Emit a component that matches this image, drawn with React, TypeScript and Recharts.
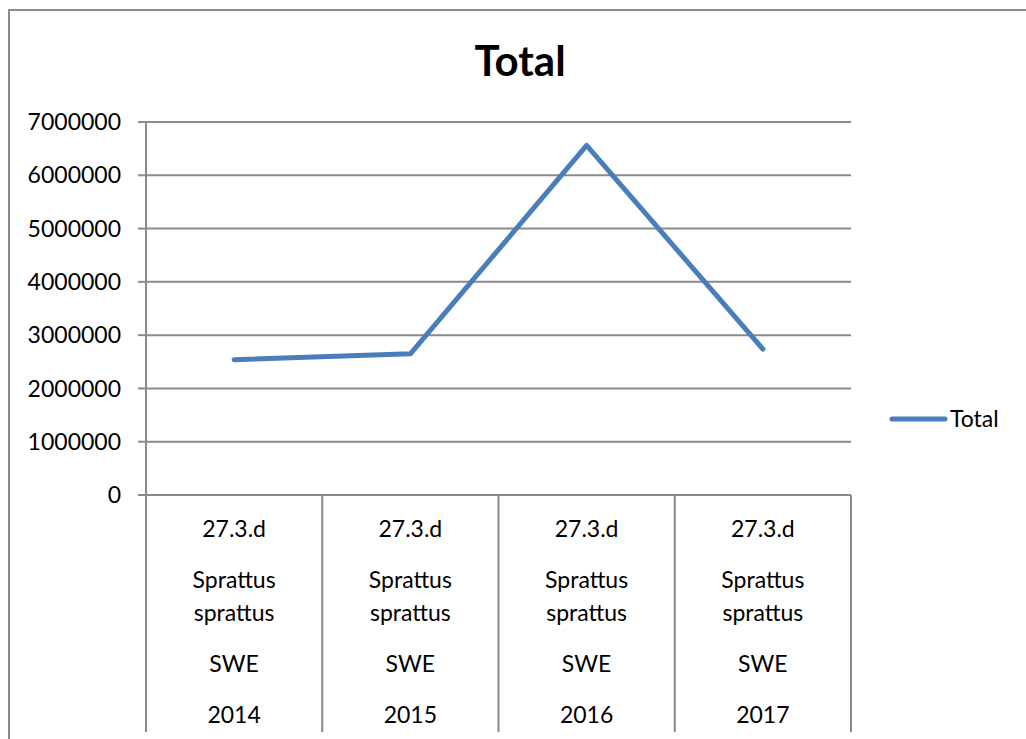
import React from 'react';
import { LineChart, Line, XAxis, YAxis, CartesianGrid } from 'recharts';

// chart values
const areas = ['27.3.d', '27.3.d', '27.3.d', '27.3.d'];
const speciesGenus = ['Sprattus', 'Sprattus', 'Sprattus', 'Sprattus'];
const speciesName = ['sprattus', 'sprattus', 'sprattus', 'sprattus'];
const countries = ['SWE', 'SWE', 'SWE', 'SWE'];
const years = ['2014', '2015', '2016', '2017'];
const totals = [2540000, 2650000, 6560000, 2740000];
const yTicks = [0, 1000000, 2000000, 3000000, 4000000, 5000000, 6000000, 7000000];

const W = 1026;
const H = 739;
const LEFT = 146;
const RIGHT = 175;
const TOP = 122;
const X_AXIS_H = 244;
const BAND = (W - LEFT - RIGHT) / years.length;

const GREY = '#8a8a8a';
const BLUE = '#4A7EBB';
const FONT = 'Lato, "Open Sans", sans-serif';

const data = years.map((year, i) => ({
  key: year,
  area: areas[i],
  genus: speciesGenus[i],
  species: speciesName[i],
  country: countries[i],
  year,
  total: totals[i],
}));

const CategoryTick = ({ x, y, payload }: any) => {
  const row = data[payload.index];
  const last = payload.index === data.length - 1;
  const lines: [string, number][] = [
    [row.area, 42],
    [row.genus, 93],
    [row.species, 126],
    [row.country, 177],
    [row.year, 228],
  ];
  return (
    <g>
      <line x1={x - BAND / 2} x2={x - BAND / 2} y1={y} y2={y + 237} stroke={GREY} strokeWidth={2} />
      {last && (
        <line x1={x + BAND / 2} x2={x + BAND / 2} y1={y} y2={y + 237} stroke={GREY} strokeWidth={2} />
      )}
      {lines.map(([t, dy], i) => (
        <text key={i} x={x} y={y + dy} textAnchor="middle" fill="#000" fontSize={23} fontFamily={FONT}>
          {t}
        </text>
      ))}
    </g>
  );
};

export default function App() {
  return (
    <div style={{ position: 'absolute', left: 0, top: 0, width: W, height: H, overflow: 'hidden', background: '#fff' }}>
      <div
        style={{
          position: 'absolute',
          left: 8,
          top: 9,
          width: 1200,
          height: 900,
          borderLeft: `2px solid ${GREY}`,
          borderTop: `2px solid ${GREY}`,
        }}
      />
      <div style={{ position: 'absolute', left: 0, top: 0 }}>
        <LineChart width={W} height={H} data={data} margin={{ top: TOP, right: RIGHT, left: 0, bottom: 0 }}>
          <CartesianGrid vertical={false} stroke={GREY} strokeWidth={2} />
          <XAxis
            dataKey="key"
            scale="band"
            interval={0}
            height={X_AXIS_H}
            tickSize={0}
            tickMargin={0}
            tickLine={false}
            axisLine={{ stroke: GREY, strokeWidth: 2 }}
            tick={<CategoryTick />}
          />
          <YAxis
            width={LEFT}
            domain={[0, 7000000]}
            ticks={yTicks}
            interval={0}
            tickFormatter={(v: number) => String(v)}
            tickSize={8}
            tickMargin={17}
            tickLine={{ stroke: GREY, strokeWidth: 2 }}
            axisLine={{ stroke: GREY, strokeWidth: 2 }}
            tick={{ fill: '#000', fontSize: 23, fontFamily: FONT }}
          />
          <Line
            type="linear"
            dataKey="total"
            name="Total"
            stroke={BLUE}
            strokeWidth={5}
            strokeLinecap="round"
            strokeLinejoin="round"
            dot={false}
            activeDot={false}
            isAnimationActive={false}
          />
        </LineChart>
      </div>
      <svg width={W} height={H} style={{ position: 'absolute', left: 0, top: 0, pointerEvents: 'none' }}>
        <text x={520} y={76} textAnchor="middle" fontFamily={FONT} fontWeight="bold" fontSize={42} fill="#000">
          Total
        </text>
        <line x1={892} x2={945} y1={419} y2={419} stroke={BLUE} strokeWidth={5} strokeLinecap="round" />
        <text x={950} y={427} fontFamily={FONT} fontSize={23} fill="#000">
          Total
        </text>
      </svg>
    </div>
  );
}
